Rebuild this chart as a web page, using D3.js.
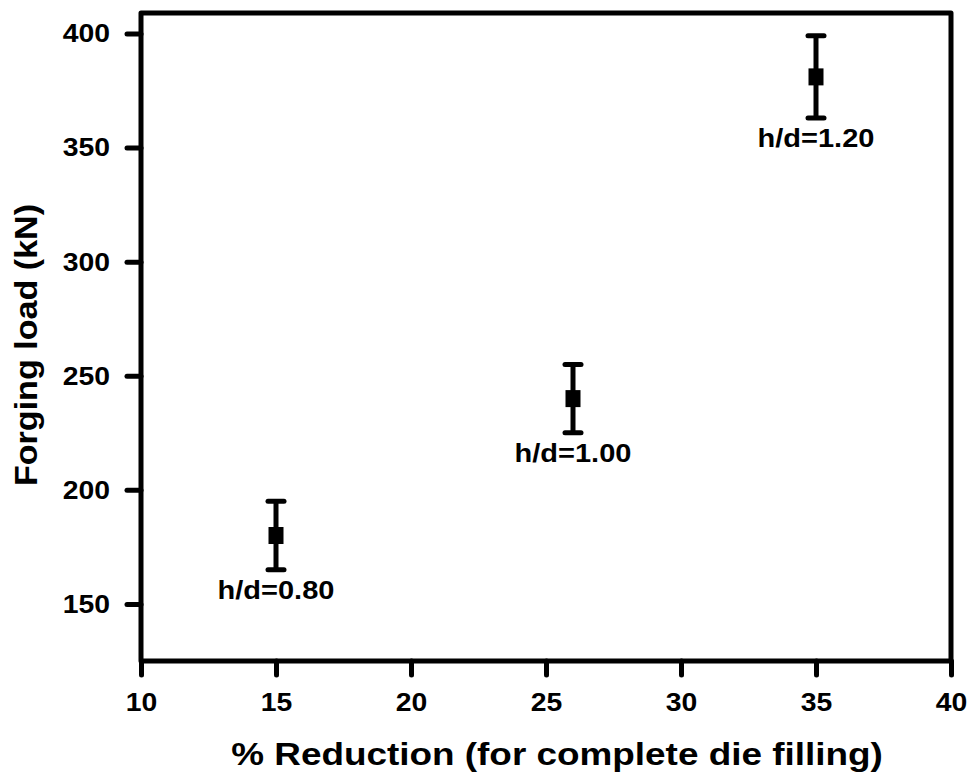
<!DOCTYPE html>
<html>
<head>
<meta charset="utf-8">
<script src="https://cdn.jsdelivr.net/npm/d3@7"></script>
<style>
body { margin: 0; background: #fff; }
text { font-family: "Liberation Sans", Arial, sans-serif; font-weight: bold; fill: #000; }
</style>
</head>
<body>
<script>
// data
var reduction = [15, 26, 35];
var load = [180, 240, 381];
var loadErr = [15, 15, 18];
var labels = ["h/d=0.80", "h/d=1.00", "h/d=1.20"];
var xTicks = [10, 15, 20, 25, 30, 35, 40];
var yTicks = [150, 200, 250, 300, 350, 400];

var svgW = 970, svgH = 781;
var margin = {left: 141, right: 19, top: 13, bottom: 120};

var svg = d3.select("body").append("svg")
	.attr("width", svgW)
	.attr("height", svgH);

var xScale = d3.scaleLinear()
	.domain([10, 40])
	.range([margin.left, svgW - margin.right]);
var yScale = d3.scaleLinear()
	.domain([125, 409])
	.range([svgH - margin.bottom, margin.top]);

// the original text looks a bit wider than Arial, so stretch it sideways
function stretch(sel, sx) {
	sel.each(function() {
		var t = d3.select(this);
		var x = +t.attr("x") || 0;
		var y = +t.attr("y") || 0;
		t.attr("x", 0).attr("y", 0)
			.attr("transform", "translate(" + x + "," + y + ") scale(" + sx + ",1)");
	});
}

/* Axes
***********************************************************************/
var xAxis = svg.append("g")
	.attr("transform", "translate(0," + (svgH - margin.bottom) + ")")
	.call(d3.axisBottom(xScale).tickValues(xTicks).tickSize(14).tickPadding(18));
var yAxis = svg.append("g")
	.attr("transform", "translate(" + margin.left + ",0)")
	.call(d3.axisLeft(yScale).tickValues(yTicks).tickSize(14).tickPadding(17));

[xAxis, yAxis].forEach(function(ax) {
	ax.attr("font-size", null).attr("font-family", null);
	ax.select(".domain").remove();
	ax.selectAll(".tick line")
		.attr("stroke", "#000")
		.attr("stroke-width", 5)
		.attr("stroke-linecap", "round");
	ax.selectAll(".tick text")
		.style("font-size", "26px")
		.style("font-weight", "bold")
		.style("fill", "#000")
		.call(stretch, 1.09);
});

// frame
svg.append("rect")
	.attr("x", xScale(10))
	.attr("y", yScale(409))
	.attr("width", xScale(40) - xScale(10))
	.attr("height", yScale(125) - yScale(409))
	.attr("fill", "none")
	.attr("stroke", "#000")
	.attr("stroke-width", 5)
	.attr("stroke-linejoin", "round");

/* Points with error bars
***********************************************************************/
var pts = svg.append("g");
reduction.forEach(function(r, i) {
	var cx = xScale(r);
	var top = yScale(load[i] + loadErr[i]);
	var bot = yScale(load[i] - loadErr[i]);
	pts.append("line")
		.attr("x1", cx).attr("x2", cx)
		.attr("y1", top).attr("y2", bot)
		.attr("stroke", "#000").attr("stroke-width", 5);
	[top, bot].forEach(function(yy) {
		pts.append("line")
			.attr("x1", cx - 8).attr("x2", cx + 8)
			.attr("y1", yy).attr("y2", yy)
			.attr("stroke", "#000").attr("stroke-width", 5)
			.attr("stroke-linecap", "round");
	});
	pts.append("rect")
		.attr("x", cx - 7.5).attr("y", yScale(load[i]) - 8.5)
		.attr("width", 15).attr("height", 17)
		.attr("fill", "#000");
	pts.append("text")
		.attr("x", cx)
		.attr("y", bot + 29)
		.attr("text-anchor", "middle")
		.attr("font-size", 25)
		.text(labels[i])
		.call(stretch, 1.16);
});

/* Titles
***********************************************************************/
svg.append("text")
	.attr("x", 557)
	.attr("y", 765)
	.attr("text-anchor", "middle")
	.attr("font-size", 31)
	.text("% Reduction (for complete die filling)")
	.call(stretch, 1.19);

svg.append("text")
	.attr("transform", "translate(37,345) rotate(-90) scale(1.1,1)")
	.attr("text-anchor", "middle")
	.attr("font-size", 31)
	.text("Forging load (kN)");
</script>
</body>
</html>
